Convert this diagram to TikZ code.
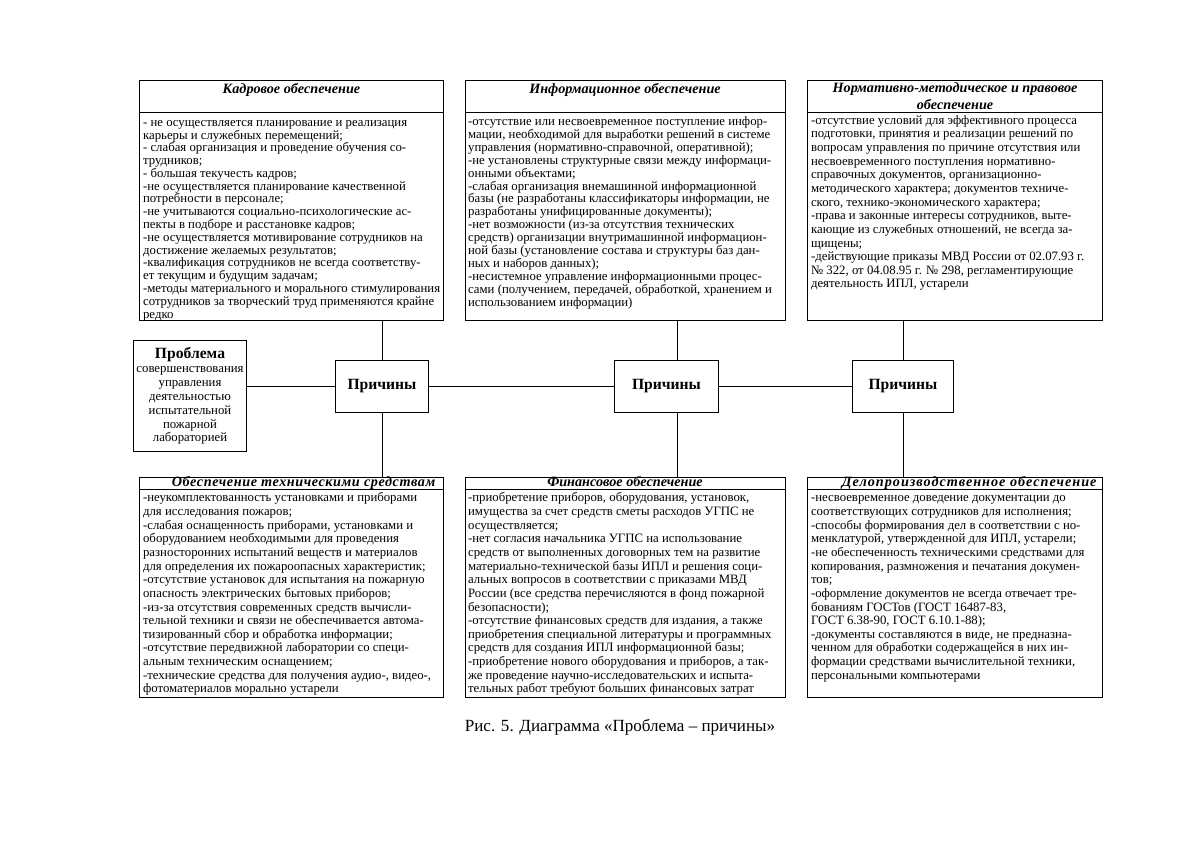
\documentclass[tikz,border=0pt]{standalone}
\usepackage{fontspec}
\setmainfont{Liberation Serif}
\usetikzlibrary{positioning}
\newcommand{\txtstrut}{\rule{0pt}{6.6pt}}
\newcommand{\txtfont}[1]{\fontsize{9}{#1}\selectfont\lineskiplimit=-4pt\relax}

\begin{document}
\begin{tikzpicture}[
  x=0.02475cm, y=-0.02475cm,
  frame/.style={draw, line width=0.7pt, inner sep=0pt, outer sep=0pt},
  head/.style={frame, anchor=north, align=center, inner ysep=1pt,
               font=\fontsize{10}{12}\selectfont\bfseries\itshape},
  headlow/.style={head, minimum height=0.30cm, inner ysep=0pt, text height=7pt, text depth=2pt},
  body/.style={frame, minimum height=5.15cm},
  txt/.style={anchor=north west, align=left, inner xsep=2pt, inner ysep=1.8pt,
              font=\txtfont{#1}},
  txt/.default=9.6pt,
  cause/.style={frame, minimum height=1.29cm, font=\fontsize{11}{13}\selectfont\bfseries},
  link/.style={line width=0.7pt},
]
\useasboundingbox (0,0) rectangle (1200,848);

% ============ TOP ROW ============
\node[head, minimum width=7.50cm, minimum height=0.77cm] (kadr) at (291.5,81)
      {Кадровое обеспечение\\ \mbox{}};
\node[body, minimum width=7.50cm, below=0pt of kadr] (kadrb) {};
\node[txt=9pt, inner ysep=3.2pt] (kadrt) at (kadrb.north west)
  {\txtstrut- не осуществляется планирование и реализация\\
   карьеры и служебных перемещений;\\
   - слабая организация и проведение обучения со-\\
   трудников;\\
   - большая текучесть кадров;\\
   -не осуществляется планирование качественной\\
   потребности в персонале;\\
   -не учитываются социально-психологические ас-\\
   пекты в подборе и расстановке кадров;\\
   -не осуществляется мотивирование сотрудников на\\
   достижение желаемых результатов;\\
   -квалификация сотрудников не всегда соответству-\\
   ет текущим и будущим задачам;\\
   -методы материального и морального стимулирования\\
   сотрудников за творческий труд применяются крайне\\
   редко};

\node[head, minimum width=7.92cm, minimum height=0.77cm] (info) at (625,81)
      {Информационное обеспечение\\ \mbox{}};
\node[body, minimum width=7.92cm, below=0pt of info] (infob) {};
\node[txt=9.1pt, inner ysep=2.6pt] (infot) at (infob.north west)
  {\txtstrut-отсутствие или несвоевременное поступление инфор-\\
   мации, необходимой для выработки решений в системе\\
   управления (нормативно-справочной, оперативной);\\
   -не установлены структурные связи между информаци-\\
   онными объектами;\\
   -слабая организация внемашинной информационной\\
   базы (не разработаны классификаторы информации, не\\
   разработаны унифицированные документы);\\
   -нет возможности (из-за отсутствия технических\\
   средств) организации внутримашинной информацион-\\
   ной базы (установление состава и структуры баз дан-\\
   ных и наборов данных);\\
   -несистемное управление информационными процес-\\
   сами (получением, передачей, обработкой, хранением и\\
   использованием информации)};

\node[head, minimum width=7.28cm, minimum height=0.77cm] (norm) at (955,81)
      {Нормативно-методическое и правовое\\ обеспечение};
\node[body, minimum width=7.28cm, below=0pt of norm] (normb) {};
\node[txt=9.6pt, inner ysep=1.8pt] (normt) at (normb.north west)
  {\txtstrut-отсутствие условий для эффективного процесса\\
   подготовки, принятия и реализации решений по\\
   вопросам управления по причине отсутствия или\\
   несвоевременного поступления нормативно-\\
   справочных документов, организационно-\\
   методического характера; документов техниче-\\
   ского, технико-экономического характера;\\
   -права и законные интересы сотрудников, выте-\\
   кающие из служебных отношений, не всегда за-\\
   щищены;\\
   -действующие приказы МВД России от 02.07.93 г.\\
   № 322, от 04.08.95 г. № 298, регламентирующие\\
   деятельность ИПЛ, устарели};

% ============ MIDDLE ROW ============
\node[frame, minimum width=2.82cm, minimum height=2.77cm, align=center,
      font=\fontsize{9}{9.8}\selectfont] (probl) at (190,396)
  {{\fontsize{11}{13}\selectfont\bfseries Проблема}\\ совершенствования\\ управления\\
   деятельностью\\ испытательной\\ пожарной\\ лабораторией};
\node[cause, minimum width=2.30cm] (prich1) at (382,386.5) {Причины};
\node[cause, minimum width=2.55cm] (prich2) at (666.5,386.5) {Причины};
\node[cause, minimum width=2.52cm] (prich3) at (903,386.5) {Причины};

% ============ BOTTOM ROW ============
\node[headlow, minimum width=7.50cm] (tech) at (291.5,477)
      {\hspace*{17pt}\addfontfeature{LetterSpace=4}Обеспечение техническими средствам};
\node[body, minimum width=7.50cm, below=0pt of tech] (techb) {};
\node[txt] (techt) at (techb.north west)
  {\txtstrut-неукомплектованность установками и приборами\\
   для исследования пожаров;\\
   -слабая оснащенность приборами, установками и\\
   оборудованием необходимыми для проведения\\
   разносторонних испытаний веществ и материалов\\
   для определения их пожароопасных характеристик;\\
   -отсутствие установок для испытания на пожарную\\
   опасность электрических бытовых приборов;\\
   -из-за отсутствия современных средств вычисли-\\
   тельной техники и связи не обеспечивается автома-\\
   тизированный сбор и обработка информации;\\
   -отсутствие передвижной лаборатории со специ-\\
   альным техническим оснащением;\\
   -технические средства для получения аудио-, видео-,\\
   фотоматериалов морально устарели};

\node[headlow, minimum width=7.92cm] (fin) at (625,477)
      {Финансовое обеспечение};
\node[body, minimum width=7.92cm, below=0pt of fin] (finb) {};
\node[txt] (fint) at (finb.north west)
  {\txtstrut-приобретение приборов, оборудования, установок,\\
   имущества за счет средств сметы расходов УГПС не\\
   осуществляется;\\
   -нет согласия начальника УГПС на использование\\
   средств от выполненных договорных тем на развитие\\
   материально-технической базы ИПЛ и решения соци-\\
   альных вопросов в соответствии с приказами МВД\\
   России (все средства перечисляются в фонд пожарной\\
   безопасности);\\
   -отсутствие финансовых средств для издания, а также\\
   приобретения специальной литературы и программных\\
   средств для создания ИПЛ информационной базы;\\
   -приобретение нового оборудования и приборов, а так-\\
   же проведение научно-исследовательских и испыта-\\
   тельных работ требуют больших финансовых затрат};

\node[headlow, minimum width=7.28cm] (delo) at (955,477)
      {\hspace*{20pt}\addfontfeature{LetterSpace=7}Делопроизводственное обеспечение};
\node[body, minimum width=7.28cm, below=0pt of delo] (delob) {};
\node[txt] (delot) at (delob.north west)
  {\txtstrut-несвоевременное доведение документации до\\
   соответствующих сотрудников для исполнения;\\
   -способы формирования дел в соответствии с но-\\
   менклатурой, утвержденной для ИПЛ, устарели;\\
   -не обеспеченность техническими средствами для\\
   копирования, размножения и печатания докумен-\\
   тов;\\
   -оформление документов не всегда отвечает тре-\\
   бованиям ГОСТов (ГОСТ 16487-83,\\
   ГОСТ 6.38-90, ГОСТ 6.10.1-88);\\
   -документы составляются в виде, не предназна-\\
   ченном для обработки содержащейся в них ин-\\
   формации средствами вычислительной техники,\\
   персональными компьютерами};

% ============ LINKS ============
\draw[link] (probl.east |- prich1) -- (prich1.west);
\draw[link] (prich1) -- (prich2);
\draw[link] (prich2) -- (prich3);
\draw[link] (prich1.north) -- (prich1.north |- kadrb.south);
\draw[link] (prich1.south) -- (prich1.south |- tech.north);
\draw[link] ([xshift=2.6mm]prich2.north) -- ([xshift=2.6mm]prich2.north |- infob.south);
\draw[link] ([xshift=2.6mm]prich2.south) -- ([xshift=2.6mm]prich2.south |- fin.north);
\draw[link] (prich3.north) -- (prich3.north |- normb.south);
\draw[link] (prich3.south) -- (prich3.south |- delo.north);

\node[font=\fontsize{12}{14}\selectfont] (capt) at (620,727)
      {Рис. 5. Диаграмма «Проблема – причины»};
\end{tikzpicture}
\end{document}
